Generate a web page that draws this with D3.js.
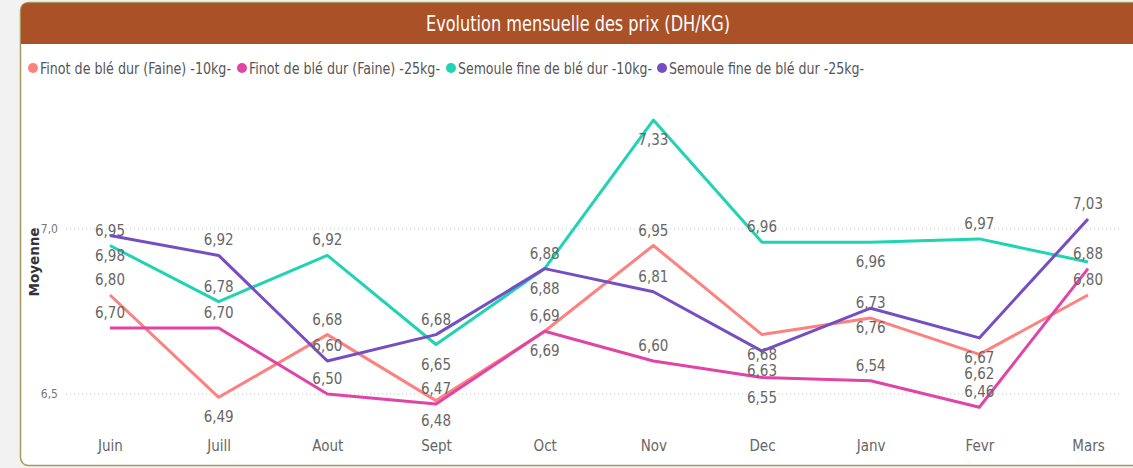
<!DOCTYPE html>
<html>
<head>
<meta charset="utf-8">
<script src="https://cdn.jsdelivr.net/npm/d3@7"></script>
<style>
  body { margin: 0; background: #fff; }
  svg { display: block; }
  text { font-family: "DejaVu Sans Condensed", "Liberation Sans Narrow", "Roboto", sans-serif; }
</style>
</head>
<body>
<svg id="chart"></svg>
<script>
// chart data
const months = ['Juin', 'Juill', 'Aout', 'Sept', 'Oct', 'Nov', 'Dec', 'Janv', 'Fevr', 'Mars'];
const seriesNames = [
  'Finot de blé dur (Faine) -10kg-',
  'Finot de blé dur (Faine) -25kg-',
  'Semoule fine de blé dur -10kg-',
  'Semoule fine de blé dur -25kg-'
];
const finot10 = [6.80, 6.49, 6.68, 6.48, 6.69, 6.95, 6.68, 6.73, 6.62, 6.80];
const finot25 = [6.70, 6.70, 6.50, 6.47, 6.69, 6.60, 6.55, 6.54, 6.46, 6.88];
const semoule10 = [6.95, 6.78, 6.92, 6.65, 6.88, 7.33, 6.96, 6.96, 6.97, 6.90];
const semoule25 = [6.98, 6.92, 6.60, 6.68, 6.88, 6.81, 6.63, 6.76, 6.67, 7.03];
const yTicks = [6.5, 7.0];

// where each data label sits: a = above, b = below, n = hidden
const labelSides = [
  'ababaababa',
  'aaaababaaa',
  'aaabababan',
  'baaababbba'
];

const colors = ['#fd817e', '#e044a7', '#1fd3b3', '#744ec2'];
const seriesValues = [finot10, finot25, semoule10, semoule25];

const width = 1133;
const height = 468;

const svg = d3.select('#chart')
  .attr('width', width)
  .attr('height', height);

// page background below card
svg.append('rect')
  .attr('x', 0).attr('y', 0)
  .attr('width', width).attr('height', height)
  .attr('fill', '#f2f2f2');

// card
svg.append('rect')
  .attr('x', 20.5).attr('y', 2.5)
  .attr('width', 1130).attr('height', 463)
  .attr('rx', 8)
  .attr('fill', '#fff')
  .attr('stroke', '#a99a5c')
  .attr('stroke-width', 1.5);

// title bar
svg.append('path')
  .attr('d', 'M21,44 L21,10 Q21,3 28,3 L1133,3 L1133,44 Z')
  .attr('fill', '#aa5128');

svg.append('text')
  .attr('x', 578)
  .attr('y', 31)
  .attr('text-anchor', 'middle')
  .attr('fill', '#fff')
  .attr('font-size', 21)
  .attr('textLength', 304)
  .attr('lengthAdjust', 'spacingAndGlyphs')
  .text('Evolution mensuelle des prix (DH/KG)');

// legend
const legendX = [33, 242, 451, 662];
const legendW = [191, 191, 194, 195];
const legend = svg.append('g').attr('class', 'legend');
seriesNames.forEach((name, i) => {
  legend.append('circle')
    .attr('cx', legendX[i])
    .attr('cy', 68)
    .attr('r', 5)
    .attr('fill', colors[i]);
  legend.append('text')
    .attr('x', legendX[i] + 7)
    .attr('y', 74)
    .attr('fill', '#555')
    .attr('font-size', 16)
    .attr('textLength', legendW[i])
    .attr('lengthAdjust', 'spacingAndGlyphs')
    .text(name);
});

// scales
const x = d3.scalePoint()
  .domain(months)
  .range([110, 1088]);

const y = d3.scaleLinear()
  .domain([6.3, 7.4])
  .range([460, 97]);

const fmt = v => d3.format('.2f')(v).replace('.', ',');

// gridlines
svg.append('g')
  .selectAll('line')
  .data(yTicks)
  .join('line')
  .attr('x1', 66)
  .attr('x2', 1122)
  .attr('y1', d => y(d))
  .attr('y2', d => y(d))
  .attr('stroke', '#c8c8c8')
  .attr('stroke-dasharray', '1,3');

// y axis
const yAxis = svg.append('g')
  .attr('transform', 'translate(60,0)')
  .call(d3.axisLeft(y).tickValues(yTicks).tickSize(0).tickPadding(2)
    .tickFormat(d => d3.format('.1f')(d).replace('.', ',')));
yAxis.select('.domain').remove();
yAxis.selectAll('text')
  .attr('fill', '#777')
  .attr('font-size', 12)
  .style('font-family', '"DejaVu Sans Condensed", sans-serif');

svg.append('text')
  .attr('transform', `translate(39, ${y(6.9)}) rotate(-90)`)
  .attr('text-anchor', 'middle')
  .attr('fill', '#333')
  .attr('font-size', 13.5)
  .attr('font-weight', 'bold')
  .style('font-family', '"DejaVu Sans", sans-serif')
  .text('Moyenne');

// x axis
const xAxis = svg.append('g')
  .attr('transform', 'translate(0,440)')
  .call(d3.axisBottom(x).tickSize(0).tickPadding(0));
xAxis.select('.domain').remove();
xAxis.selectAll('text')
  .attr('fill', '#666')
  .attr('font-size', 15)
  .style('font-family', '"DejaVu Sans Condensed", sans-serif');

// lines
const line = d3.line()
  .x((d, i) => x(months[i]))
  .y(d => y(d));

svg.append('g')
  .selectAll('path')
  .data(seriesValues)
  .join('path')
  .attr('d', d => line(d))
  .attr('fill', 'none')
  .attr('stroke', (d, i) => colors[i])
  .attr('stroke-width', 3)
  .attr('stroke-linejoin', 'round');

// data labels
const labelData = [];
seriesValues.forEach((vals, s) => {
  vals.forEach((v, i) => {
    const side = labelSides[s][i];
    if (side !== 'n') labelData.push({ s, i, v, side });
  });
});

svg.append('g')
  .selectAll('text')
  .data(labelData)
  .join('text')
  .attr('x', d => x(months[d.i]))
  .attr('y', d => y(d.v) + (d.side === 'a' ? -10 : 25))
  .attr('text-anchor', 'middle')
  .attr('fill', '#666')
  .attr('font-size', 15)
  .text(d => fmt(d.v));
</script>
</body>
</html>
